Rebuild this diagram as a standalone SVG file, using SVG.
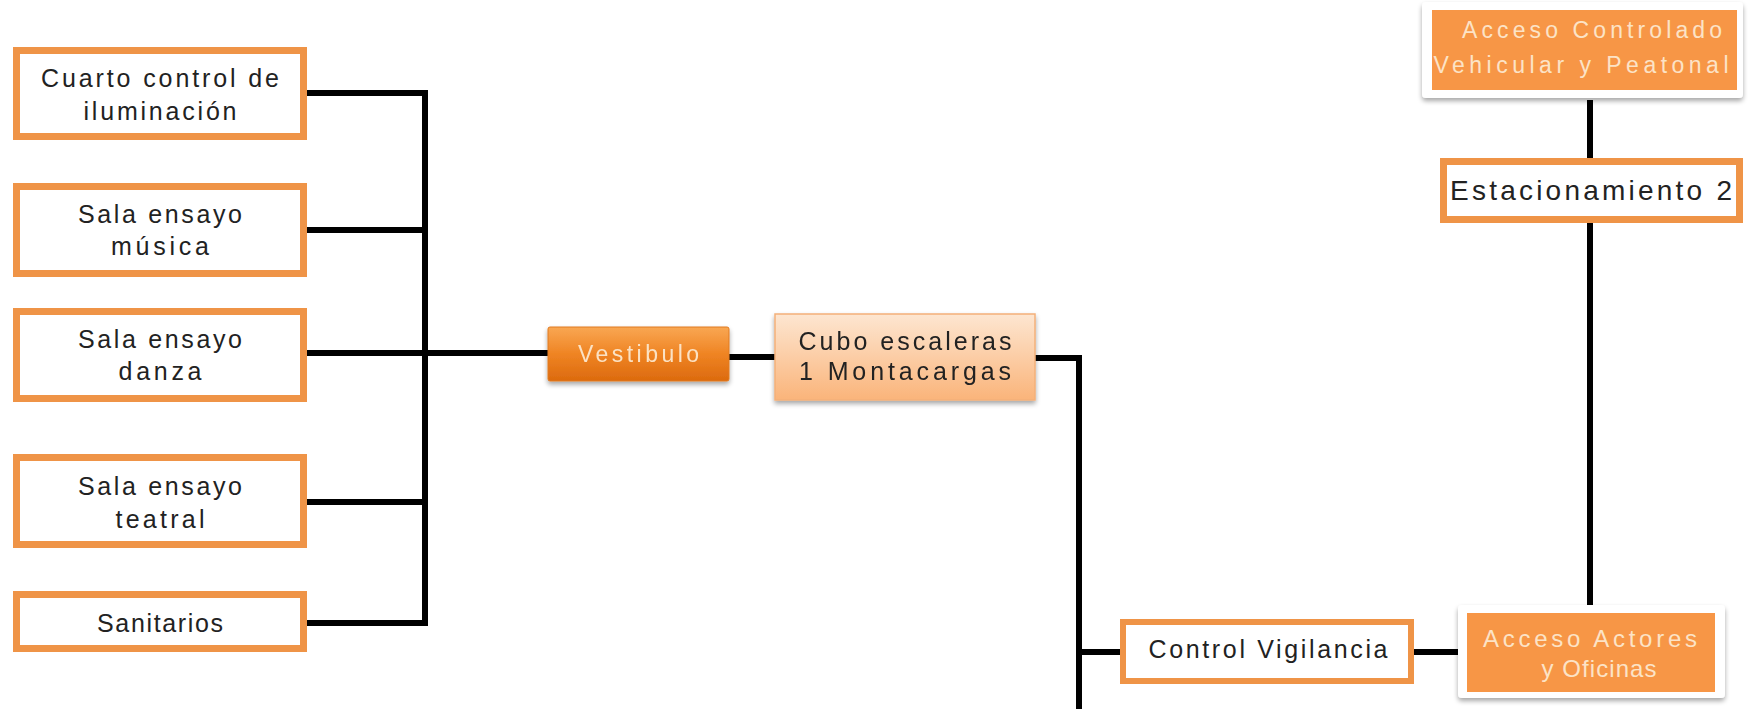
<svg xmlns="http://www.w3.org/2000/svg" width="1762" height="709" viewBox="0 0 1762 709">
<defs>
<style>
.box{fill:#ffffff;stroke:#EF9447;stroke-width:7}
.t{font-family:"Liberation Sans",Arial,sans-serif;font-size:25px;fill:#222222;text-anchor:middle}
.tl{font-family:"Liberation Sans",Arial,sans-serif;font-size:23px;fill:#FCE3C6;text-anchor:middle}
.con{fill:none;stroke:#000;stroke-width:6;stroke-linejoin:miter}
.acc{fill:#F79646}
.frame{fill:#ffffff}
</style>
<linearGradient id="gVest" x1="0" y1="0" x2="0" y2="1">
<stop offset="0" stop-color="#F9A753"/>
<stop offset="0.5" stop-color="#EF8423"/>
<stop offset="1" stop-color="#DC6A0E"/>
</linearGradient>
<linearGradient id="gCubo" x1="0" y1="0" x2="0" y2="1">
<stop offset="0" stop-color="#FDE6D1"/>
<stop offset="1" stop-color="#FAB47A"/>
</linearGradient>
<filter id="sh" x="-10%" y="-20%" width="120%" height="150%">
<feGaussianBlur in="SourceAlpha" stdDeviation="2.5"/>
<feOffset dx="0" dy="3" result="b"/>
<feComponentTransfer><feFuncA type="linear" slope="0.35"/></feComponentTransfer>
<feMerge><feMergeNode/><feMergeNode in="SourceGraphic"/></feMerge>
</filter>
</defs>
<rect width="1762" height="709" fill="#ffffff"/>

<g id="connectors">
<path class="con" d="M307 93 H425 V623 H307"/>
<path class="con" d="M307 230 H425"/>
<path class="con" d="M307 353 H548"/>
<path class="con" d="M307 502 H425"/>
<path class="con" d="M729 357 H775"/>
<path class="con" d="M1035 358 H1079 V709"/>
<path class="con" d="M1079 652 H1120"/>
<path class="con" d="M1414 652 H1467"/>
<path class="con" d="M1590 100 V158"/>
<path class="con" d="M1590 223 V605"/>
</g>

<g id="cuarto">
<rect class="box" x="16.5" y="50.5" width="287" height="86"/>
<text class="t" x="160" y="87" textLength="238" lengthAdjust="spacing">Cuarto control de</text>
<text class="t" x="160" y="120" textLength="153" lengthAdjust="spacing">iluminación</text>
</g>

<g id="musica">
<rect class="box" x="16.5" y="186.5" width="287" height="87"/>
<text class="t" x="160" y="223" textLength="164" lengthAdjust="spacing">Sala ensayo</text>
<text class="t" x="160" y="255" textLength="98" lengthAdjust="spacing">música</text>
</g>

<g id="danza">
<rect class="box" x="16.5" y="311.5" width="287" height="87"/>
<text class="t" x="160" y="348" textLength="164" lengthAdjust="spacing">Sala ensayo</text>
<text class="t" x="160" y="380" textLength="83" lengthAdjust="spacing">danza</text>
</g>

<g id="teatral">
<rect class="box" x="16.5" y="457.5" width="287" height="87"/>
<text class="t" x="160" y="495" textLength="164" lengthAdjust="spacing">Sala ensayo</text>
<text class="t" x="160" y="528" textLength="89" lengthAdjust="spacing">teatral</text>
</g>

<g id="sanitarios">
<rect class="box" x="16.5" y="594.5" width="287" height="54"/>
<text class="t" x="160" y="632" textLength="126" lengthAdjust="spacing">Sanitarios</text>
</g>

<g id="vestibulo" filter="url(#sh)">
<rect x="548" y="327" width="181" height="54" rx="2" fill="url(#gVest)" stroke="#E07A20" stroke-width="1"/>
<text class="tl" x="638.5" y="362" textLength="121" lengthAdjust="spacing" style="fill:#FBE2C4">Vestibulo</text>
</g>

<g id="cubo" filter="url(#sh)">
<rect x="775" y="314" width="260" height="86" fill="url(#gCubo)" stroke="#F3B07A" stroke-width="1.5"/>
<text class="t" x="905" y="350" textLength="213" lengthAdjust="spacing">Cubo escaleras</text>
<text class="t" x="905" y="380" textLength="212" lengthAdjust="spacing">1 Montacargas</text>
</g>

<g id="control-vigilancia">
<rect class="box" x="1123" y="622" width="288" height="59" style="stroke-width:6"/>
<text class="t" x="1268" y="658" textLength="239" lengthAdjust="spacing">Control Vigilancia</text>
</g>

<g id="acceso-actores">
<rect class="frame" x="1458" y="605" width="267" height="93" rx="4" filter="url(#sh)"/>
<rect class="acc" x="1467" y="613" width="248" height="79"/>
<text class="tl" x="1590" y="647" textLength="214" lengthAdjust="spacing" style="font-size:24px">Acceso Actores</text>
<text class="tl" x="1599" y="677" textLength="115" lengthAdjust="spacing" style="font-size:24px">y Oficinas</text>
</g>

<g id="estacionamiento">
<rect class="box" x="1443.5" y="161.5" width="296" height="58"/>
<text class="t" x="1591" y="200" textLength="282" lengthAdjust="spacing" style="font-size:28px">Estacionamiento 2</text>
</g>

<g id="acceso-controlado">
<rect class="frame" x="1422" y="2" width="321" height="96" rx="4" filter="url(#sh)"/>
<rect class="acc" x="1432" y="10" width="305" height="80"/>
<text class="tl" x="1592" y="38" textLength="260" lengthAdjust="spacing">Acceso Controlado</text>
<text class="tl" x="1581" y="73" textLength="295" lengthAdjust="spacing">Vehicular y Peatonal</text>
</g>
</svg>
